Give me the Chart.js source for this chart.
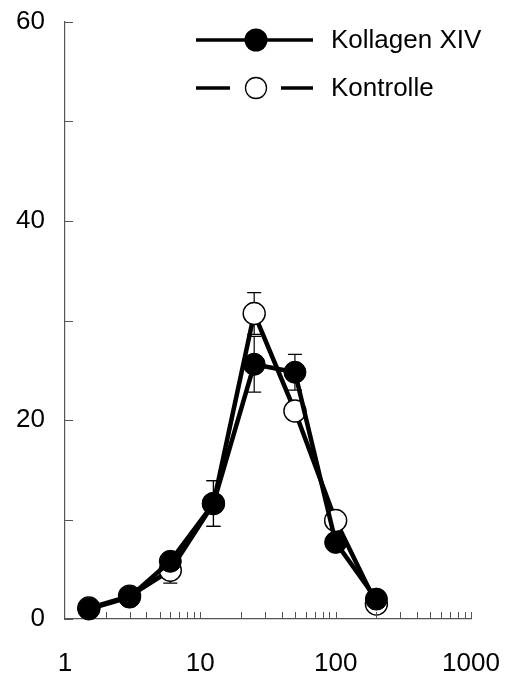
<!DOCTYPE html>
<html>
<head>
<meta charset="utf-8">
<script src="https://cdn.jsdelivr.net/npm/chart.js@4.4.0/dist/chart.umd.min.js"></script>
<style>
    html, body { margin: 0; padding: 0; background: #fff; }
    #wrap { width: 508px; height: 678px; }
</style>
</head>
<body>
<div id="wrap"><canvas id="c" width="508" height="678"></canvas></div>
<script>
// concentrations (log axis)
const doses = [1.5, 3, 6, 12.5, 25, 50, 100, 200];

const kollagenVals = [1.0, 2.2, 5.8, 11.6, 25.6, 24.8, 7.7, 2.0];
const kollagenErr  = [0.3, 0.4, 0.6, 2.3, 2.8, 1.8, 0.8, 0.4];

const kontrolleVals = [1.1, 2.3, 4.9, 11.6, 30.7, 20.9, 9.9, 1.5];
const kontrolleErr  = [0.3, 0.4, 1.3, 2.3, 2.1, 0.9, 0.8, 0.4];

const xLabels = [1, 10, 100, 1000];
const yTicks = [0, 20, 40, 60];

const FONT = 'Arial, "Liberation Sans", sans-serif';

const toPoints = (vals) => doses.map((d, i) => ({ x: d, y: vals[i] }));

// error bars, drawn under the lines and markers
const errorBars = {
    id: 'errorBars',
    beforeDatasetsDraw(chart) {
        const ctx = chart.ctx;
        const xs = chart.scales.x, ys = chart.scales.y;
        ctx.save();
        ctx.strokeStyle = '#000';
        ctx.lineWidth = 1.2;
        chart.data.datasets.forEach(ds => {
            ds.data.forEach((p, i) => {
                const e = ds.errors[i];
                const px = xs.getPixelForValue(p.x);
                const top = ys.getPixelForValue(p.y + e);
                const bot = ys.getPixelForValue(p.y - e);
                ctx.beginPath();
                ctx.moveTo(px, top); ctx.lineTo(px, bot);
                ctx.moveTo(px - 7, top); ctx.lineTo(px + 7, top);
                ctx.moveTo(px - 7, bot); ctx.lineTo(px + 7, bot);
                ctx.stroke();
            });
        });
        ctx.restore();
    }
};

// inward tick marks on both axes
const innerTicks = {
    id: 'innerTicks',
    afterDraw(chart) {
        const ctx = chart.ctx;
        const xs = chart.scales.x, ys = chart.scales.y;
        const left = chart.chartArea.left, bottom = chart.chartArea.bottom;
        ctx.save();
        ctx.strokeStyle = '#555';
        ctx.lineWidth = 1;
        ctx.beginPath();
        for (let v = 0; v <= 60; v += 10) {
            const py = Math.round(ys.getPixelForValue(v)) + 0.5;
            ctx.moveTo(left, py); ctx.lineTo(left + 8, py);
        }
        [1, 10, 100].forEach(dec => {
            for (let m = 1; m <= 10; m++) {
                const v = dec * m;
                if (v === 1) continue;
                const px = Math.round(xs.getPixelForValue(v)) + 0.5;
                ctx.moveTo(px, bottom); ctx.lineTo(px, bottom - 7);
            }
        });
        ctx.stroke();
        ctx.restore();
    }
};

// legend with line + marker, top right
const sampleLegend = {
    id: 'sampleLegend',
    afterDraw(chart) {
        const ctx = chart.ctx;
        ctx.save();
        ctx.strokeStyle = '#000';
        ctx.fillStyle = '#000';
        ctx.lineWidth = 3.5;
        // Kollagen XIV
        ctx.beginPath();
        ctx.moveTo(196, 40); ctx.lineTo(313, 40);
        ctx.stroke();
        ctx.beginPath();
        ctx.arc(256, 40, 11.5, 0, Math.PI * 2);
        ctx.fill();
        // Kontrolle
        ctx.beginPath();
        ctx.moveTo(196, 88); ctx.lineTo(230, 88);
        ctx.moveTo(281, 88); ctx.lineTo(313, 88);
        ctx.stroke();
        ctx.lineWidth = 1.3;
        ctx.beginPath();
        ctx.arc(256, 88, 10.5, 0, Math.PI * 2);
        ctx.fillStyle = '#fff';
        ctx.fill();
        ctx.stroke();
        ctx.fillStyle = '#000';
        ctx.font = '26px ' + FONT;
        ctx.textBaseline = 'middle';
        ctx.fillText('Kollagen XIV', 331, 41);
        ctx.fillText('Kontrolle', 331, 89);
        ctx.restore();
    }
};

new Chart(document.getElementById('c'), {
    type: 'line',
    data: {
        datasets: [{
            label: 'Kollagen XIV',
            data: toPoints(kollagenVals),
            errors: kollagenErr,
            borderColor: '#000',
            borderWidth: 4.5,
            pointRadius: 11,
            pointBackgroundColor: '#000',
            pointBorderColor: '#000',
            pointBorderWidth: 1,
            tension: 0,
            clip: false
        }, {
            label: 'Kontrolle',
            data: toPoints(kontrolleVals),
            errors: kontrolleErr,
            borderColor: '#000',
            borderWidth: 4.5,
            pointRadius: 11,
            pointBackgroundColor: '#fff',
            pointBorderColor: '#000',
            pointBorderWidth: 1.4,
            tension: 0,
            clip: false
        }]
    },
    options: {
        responsive: false,
        animation: false,
        layout: { padding: { top: 22, right: 37, left: 0, bottom: 0 } },
        plugins: {
            legend: { display: false },
            tooltip: { enabled: false }
        },
        scales: {
            x: {
                type: 'logarithmic',
                min: 1,
                max: 1000,
                afterBuildTicks: (scale) => { scale.ticks = xLabels.map(v => ({ value: v })); },
                afterFit: (scale) => {
                    scale.height = 59;
                    scale.paddingLeft = 0;
                    scale.paddingRight = 0;
                },
                grid: { display: false },
                border: { display: true, color: '#555', width: 1.2 },
                ticks: {
                    autoSkip: false,
                    maxRotation: 0,
                    padding: 21,
                    color: '#000',
                    font: { family: FONT, size: 26 },
                    callback: (v) => String(v)
                }
            },
            y: {
                min: 0,
                max: 60,
                afterBuildTicks: (scale) => { scale.ticks = yTicks.map(v => ({ value: v })); },
                afterFit: (scale) => {
                    scale.width = 65;
                    scale.paddingTop = 0;
                    scale.paddingBottom = 0;
                },
                grid: { display: false },
                border: { display: true, color: '#555', width: 1.2 },
                ticks: {
                    padding: 12,
                    color: '#000',
                    font: { family: FONT, size: 26 }
                }
            }
        }
    },
    plugins: [errorBars, innerTicks, sampleLegend]
});
</script>
</body>
</html>
